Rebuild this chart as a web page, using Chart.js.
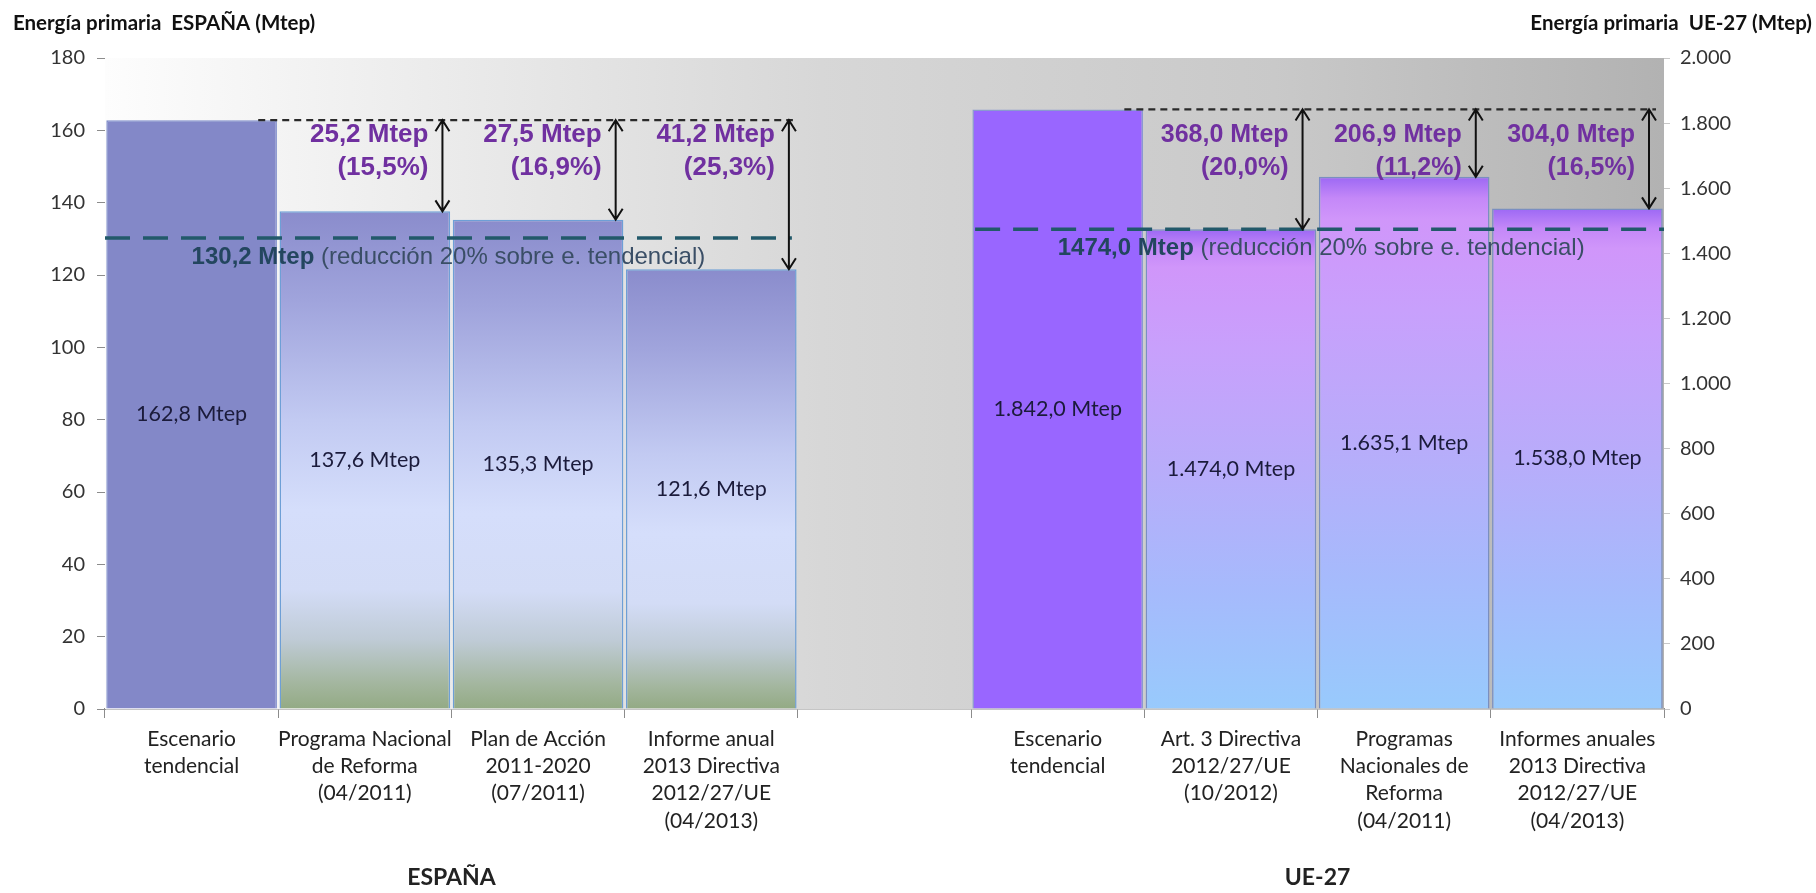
<!DOCTYPE html>
<html>
<head>
<meta charset="utf-8">
<script src="https://cdn.jsdelivr.net/npm/chart.js@4.4.1/dist/chart.umd.min.js"></script>
<style>
  html, body { margin: 0; padding: 0; background: #fff; }
  #wrap { width: 1816px; height: 893px; }
</style>
</head>
<body>
<div id="wrap"><canvas id="chart" width="1816" height="893"></canvas></div>
<script>
// categorías (hueco vacío entre los dos grupos)
const categories = [
    ['Escenario', 'tendencial'],
    ['Programa Nacional', 'de Reforma', '(04/2011)'],
    ['Plan de Acción', '2011-2020', '(07/2011)'],
    ['Informe anual', '2013 Directiva', '2012/27/UE', '(04/2013)'],
    '',
    ['Escenario', 'tendencial'],
    ['Art. 3 Directiva', '2012/27/UE', '(10/2012)'],
    ['Programas', 'Nacionales de', 'Reforma', '(04/2011)'],
    ['Informes anuales', '2013 Directiva', '2012/27/UE', '(04/2013)']
];

const spainValues = [162.8, 137.6, 135.3, 121.6];
const euValues = [1842.0, 1474.0, 1635.1, 1538.0];
const spainValueLabels = ['162,8 Mtep', '137,6 Mtep', '135,3 Mtep', '121,6 Mtep'];
const euValueLabels = ['1.842,0 Mtep', '1.474,0 Mtep', '1.635,1 Mtep', '1.538,0 Mtep'];

const spainTarget = 130.2;
const euTarget = 1474.0;
const spainTargetLabel = '130,2 Mtep';
const euTargetLabel = '1474,0 Mtep';
const targetNote = ' (reducción 20% sobre e. tendencial)';

const spainSavings = ['25,2 Mtep', '27,5 Mtep', '41,2 Mtep'];
const spainSavingsPct = ['(15,5%)', '(16,9%)', '(25,3%)'];
const euSavings = ['368,0 Mtep', '206,9 Mtep', '304,0 Mtep'];
const euSavingsPct = ['(20,0%)', '(11,2%)', '(16,5%)'];

const spainAxis = { min: 0, max: 180, step: 20 };
const euAxis = { min: 0, max: 2000, step: 200 };

const spainStart = 0;
const euStart = 5;

const FONT = 'Lato, "Open Sans", sans-serif';
const ARIAL = '"Liberation Sans", Arial, sans-serif';

// datos alineados con las 9 categorías
const spainData = categories.map((_, i) => i >= spainStart && i < spainStart + spainValues.length ? spainValues[i - spainStart] : null);
const euData = categories.map((_, i) => i >= euStart && i < euStart + euValues.length ? euValues[i - euStart] : null);

const spainStops = [[0, '#8a8ccc'], [0.18, '#a0a4dc'], [0.42, '#c2caf2'], [0.6, '#d5defb'], [0.76, '#d3dcf6'], [0.86, '#bfcbd6'], [0.95, '#a3b69e'], [1, '#93aa84']];
const euStops = [[0, '#9c68f4'], [0.04, '#c488f8'], [0.08, '#d096fa'], [0.25, '#c8a0fc'], [0.5, '#b8acfa'], [0.75, '#a6bafc'], [1, '#98cafc']];

function thousands(v) {
    return String(v).replace(/\B(?=(\d{3})+(?!\d))/g, '.');
}

// degradado por barra, desde su parte superior hasta la base
function barFill(ctx, solid, stops, first) {
    const chart = ctx.chart;
    const v = ctx.raw;
    if (v == null) return 'rgba(0,0,0,0)';
    if (ctx.dataIndex === first) return solid;
    if (!chart.chartArea) return stops[0][1];
    const sc = chart.scales[chart.data.datasets[ctx.datasetIndex].yAxisID];
    const top = sc.getPixelForValue(v);
    const bot = sc.getPixelForValue(0);
    const g = chart.ctx.createLinearGradient(0, top, 0, bot);
    stops.forEach(s => g.addColorStop(s[0], s[1]));
    return g;
}

const plotBackground = {
    id: 'plotBackground',
    beforeDatasetsDraw(chart) {
        const { ctx, chartArea: a } = chart;
        const g = ctx.createLinearGradient(a.left, 0, a.right, 0);
        g.addColorStop(0, '#fdfdfd');
        g.addColorStop(0.46, '#d7d7d7');
        g.addColorStop(0.75, '#c9c9c9');
        g.addColorStop(1, '#b2b2b2');
        ctx.save();
        ctx.fillStyle = g;
        ctx.fillRect(a.left, a.top, a.right - a.left, a.bottom - a.top);
        ctx.restore();
    }
};

function arrow(ctx, x, y0, y1) {
    const h = 11, w = 7;
    ctx.beginPath();
    ctx.moveTo(x, y0);
    ctx.lineTo(x, y1);
    ctx.moveTo(x - w, y0 + h); ctx.lineTo(x, y0); ctx.lineTo(x + w, y0 + h);
    ctx.moveTo(x - w, y1 - h); ctx.lineTo(x, y1); ctx.lineTo(x + w, y1 - h);
    ctx.stroke();
}

const annotations = {
    id: 'annotations',
    afterDatasetsDraw(chart) {
        const { ctx, chartArea: a, scales } = chart;
        const x = scales.x;
        const slot = x.getPixelForValue(1) - x.getPixelForValue(0);
        const slotRight = i => x.getPixelForValue(i) + slot / 2;
        const slotLeft = i => x.getPixelForValue(i) - slot / 2;

        const groups = [
            { ds: 0, start: spainStart, values: spainValues, labels: spainValueLabels, scale: scales.y,
              target: spainTarget, targetLabel: spainTargetLabel, savings: spainSavings, pct: spainSavingsPct,
              lineFrom: a.left, lineTo: slotRight(spainStart + 3) - 6, arrowOff: 9, purpleSize: 26, name: 'ESPAÑA' },
            { ds: 1, start: euStart, values: euValues, labels: euValueLabels, scale: scales.y1,
              target: euTarget, targetLabel: euTargetLabel, savings: euSavings, pct: euSavingsPct,
              lineFrom: slotLeft(euStart) + 4, lineTo: a.right, arrowOff: 15, purpleSize: 25, name: 'UE-27' }
        ];

        ctx.save();
        groups.forEach(gr => {
            const meta = chart.getDatasetMeta(gr.ds);
            const yRef = gr.scale.getPixelForValue(gr.values[0]);
            const yTarget = gr.scale.getPixelForValue(gr.target);

            // valores dentro de las barras
            ctx.fillStyle = '#1b1b3b';
            ctx.font = '21.5px ' + FONT;
            ctx.textAlign = 'center';
            ctx.textBaseline = 'middle';
            gr.labels.forEach((lab, i) => {
                const el = meta.data[gr.start + i];
                ctx.fillText(lab, el.x, (el.y + el.base) / 2);
            });

            // línea de referencia punteada (escenario tendencial)
            ctx.strokeStyle = '#2a2a2a';
            ctx.lineWidth = 2.2;
            ctx.setLineDash([7, 5]);
            ctx.beginPath();
            ctx.moveTo(slotRight(gr.start) - 20, yRef);
            ctx.lineTo(gr.ds === 0 ? slotRight(gr.start + 3) - 5 : a.right - 8, yRef);
            ctx.stroke();

            // objetivo (discontinua)
            ctx.strokeStyle = '#22596a';
            ctx.lineWidth = 3.5;
            ctx.setLineDash([25, 13]);
            ctx.beginPath();
            ctx.moveTo(gr.lineFrom, yTarget);
            ctx.lineTo(gr.lineTo, yTarget);
            ctx.stroke();
            ctx.setLineDash([]);

            // flechas y ahorros
            ctx.strokeStyle = '#111';
            ctx.lineWidth = 2;
            for (let i = 1; i < gr.values.length; i++) {
                const ax = slotRight(gr.start + i) - gr.arrowOff;
                arrow(ctx, ax, yRef, gr.scale.getPixelForValue(gr.values[i]));
                ctx.fillStyle = '#7030a0';
                ctx.font = 'bold ' + gr.purpleSize + 'px ' + ARIAL;
                ctx.textAlign = 'right';
                ctx.textBaseline = 'middle';
                ctx.fillText(gr.savings[i - 1], ax - 14, a.top + 77);
                ctx.fillText(gr.pct[i - 1], ax - 14, a.top + 110);
            }

            // etiqueta del objetivo
            const tx = meta.data[gr.start].x;
            const ty = yTarget + 19;
            ctx.textAlign = 'left';
            ctx.textBaseline = 'middle';
            ctx.font = 'bold 24px ' + ARIAL;
            ctx.fillStyle = '#23465f';
            ctx.fillText(gr.targetLabel, tx, ty);
            const w = ctx.measureText(gr.targetLabel).width;
            ctx.font = '24px ' + ARIAL;
            ctx.fillStyle = '#3a4e66';
            ctx.fillText(targetNote, tx + w, ty);

            // nombre del grupo
            ctx.font = 'bold 23px ' + FONT;
            ctx.fillStyle = '#222';
            ctx.textAlign = 'center';
            const gx = (x.getPixelForValue(gr.start) + x.getPixelForValue(gr.start + 3)) / 2;
            ctx.fillText(gr.name, gx, 878);
        });

        // títulos de los ejes
        ctx.font = 'bold 20.5px ' + FONT;
        ctx.fillStyle = '#111';
        ctx.textBaseline = 'middle';
        ctx.textAlign = 'left';
        ctx.fillText('Energía primaria  ESPAÑA (Mtep)', 13, 23);
        ctx.textAlign = 'right';
        ctx.fillText('Energía primaria  UE-27 (Mtep)', 1812, 23);
        ctx.restore();
    }
};

new Chart(document.getElementById('chart'), {
    type: 'bar',
    data: {
        labels: categories,
        datasets: [
            {
                label: 'ESPAÑA',
                data: spainData,
                yAxisID: 'y',
                grouped: false,
                barPercentage: 1,
                categoryPercentage: 0.985,
                backgroundColor: ctx => barFill(ctx, '#8388c8', spainStops, spainStart),
                borderColor: ctx => ctx.dataIndex === spainStart ? '#7e8cca' : '#6e9fd6',
                borderWidth: 1.5
            },
            {
                label: 'UE-27',
                data: euData,
                yAxisID: 'y1',
                grouped: false,
                barPercentage: 1,
                categoryPercentage: 0.985,
                backgroundColor: ctx => barFill(ctx, '#9966ff', euStops, euStart),
                borderColor: ctx => ctx.dataIndex === euStart ? '#8a9ad0' : '#7a8fc0',
                borderWidth: 1.5
            }
        ]
    },
    plugins: [plotBackground, annotations],
    options: {
        responsive: false,
        animation: false,
        layout: { padding: { top: 58, left: 0, right: 0, bottom: 0 } },
        plugins: {
            legend: { display: false },
            tooltip: { enabled: false }
        },
        scales: {
            x: {
                grid: { offset: true, drawOnChartArea: false, tickLength: 9, color: '#8c8c8c' },
                border: { color: '#8c8c8c', width: 1.5 },
                ticks: { font: { family: FONT, size: 21, lineHeight: 1.29 }, color: '#222', padding: 8, maxRotation: 0, autoSkip: false },
                afterFit: s => { s.height = 184; }
            },
            y: {
                position: 'left',
                min: spainAxis.min,
                max: spainAxis.max,
                ticks: { stepSize: spainAxis.step, font: { family: FONT, size: 20 }, color: '#333', padding: 12 },
                grid: { drawOnChartArea: false, tickLength: 8, color: '#8c8c8c' },
                border: { color: '#9a9a9a' },
                afterFit: s => { s.width = 105; }
            },
            y1: {
                position: 'right',
                min: euAxis.min,
                max: euAxis.max,
                ticks: { stepSize: euAxis.step, font: { family: FONT, size: 20 }, color: '#333', padding: 10, callback: v => thousands(v) },
                grid: { drawOnChartArea: false, tickLength: 6, color: '#c8c8c8' },
                border: { display: false },
                afterFit: s => { s.width = 152; }
            }
        }
    }
});
</script>
</body>
</html>
